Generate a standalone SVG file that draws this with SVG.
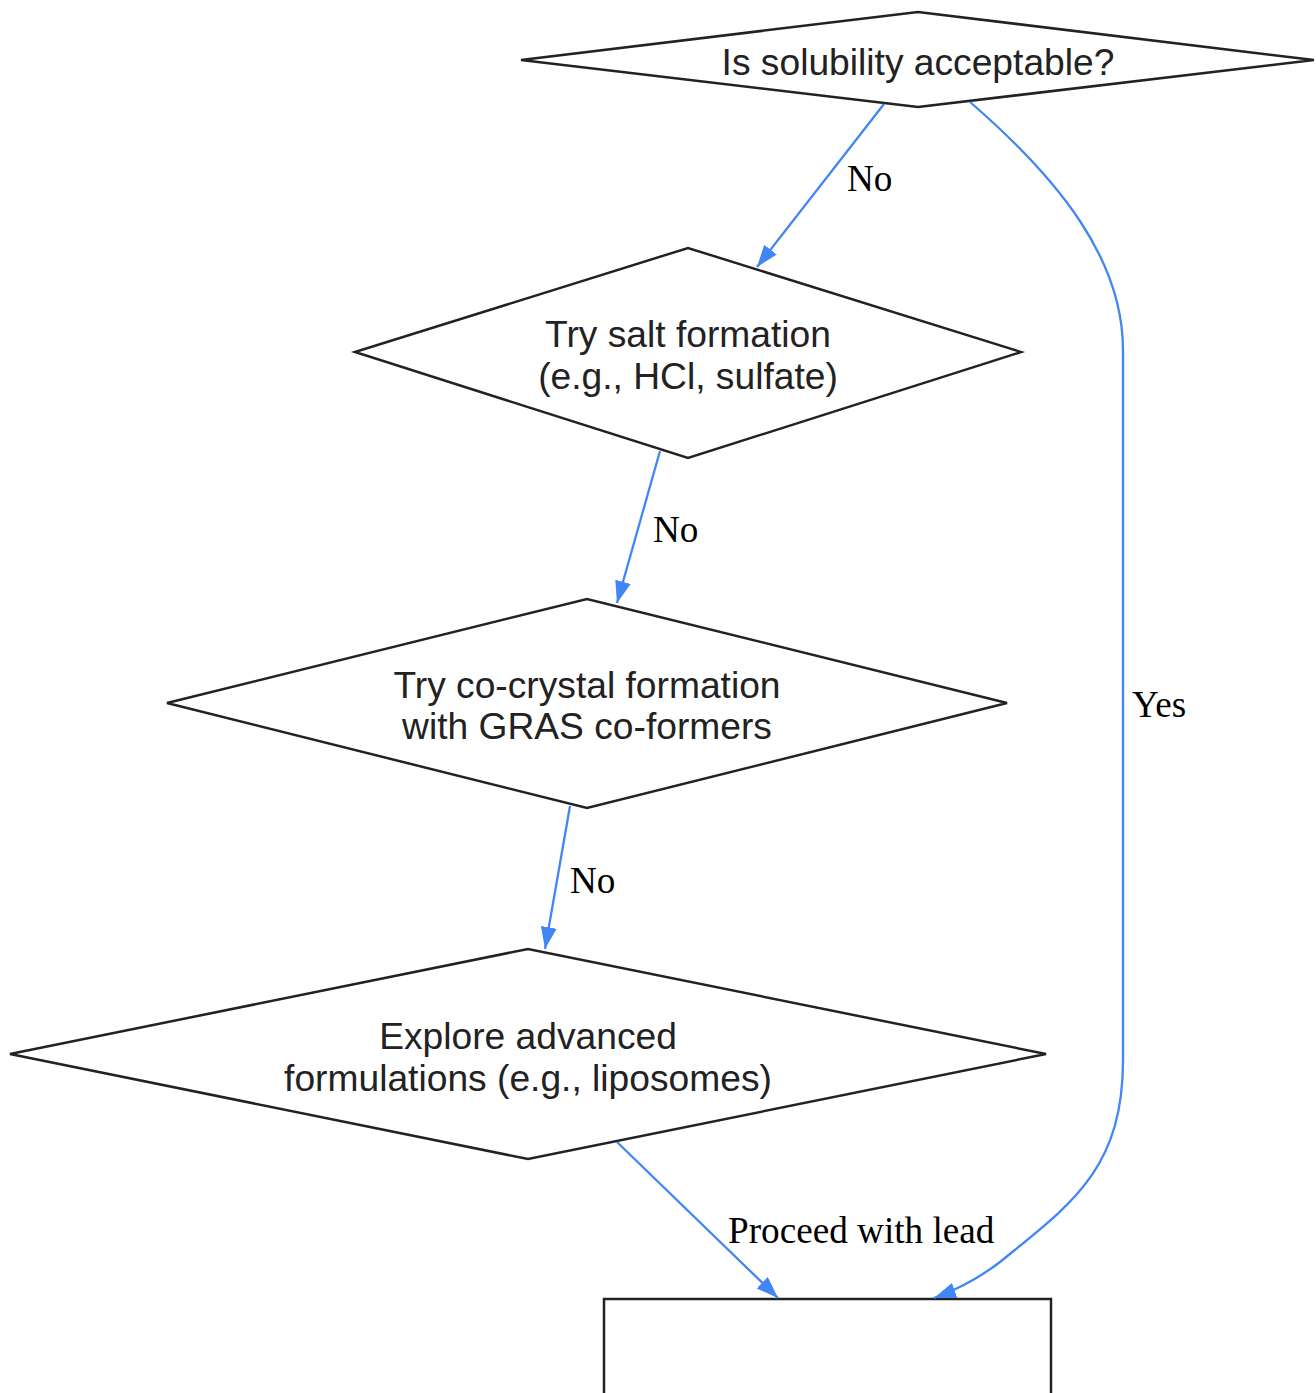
<svg xmlns="http://www.w3.org/2000/svg" width="1316" height="1393" viewBox="0 0 1316 1393">
<style>
.node{fill:#fff;stroke:#222;stroke-width:2.5}
.nt{font-family:"Liberation Sans",Arial,sans-serif;font-size:37.2px;fill:#222;text-anchor:middle}
.edge{fill:none;stroke:#4285F4;stroke-width:2.3}
.el{font-family:"Liberation Serif","Times New Roman",serif;font-size:37.2px;fill:#000}
</style>
<defs>
<marker id="arr" markerUnits="userSpaceOnUse" markerWidth="24" markerHeight="18" refX="22" refY="8" orient="auto">
<path d="M0,0 L22,8 L0,16 z" fill="#4285F4"/>
</marker>
</defs>
<rect width="1316" height="1393" fill="#fff"/>
<g id="n1">
<polygon class="node" points="521,60 918,12 1314,60 918,107"/>
<text class="nt" x="918" y="75">Is solubility acceptable?</text>
</g>
<g id="n2">
<polygon class="node" points="355,352 688,248 1021,352 688,458"/>
<text class="nt" x="688" y="347">Try salt formation</text>
<text class="nt" x="688" y="389">(e.g., HCl, sulfate)</text>
</g>
<g id="n3">
<polygon class="node" points="167,703 587,599 1007,703 587,808"/>
<text class="nt" x="587" y="698">Try co-crystal formation</text>
<text class="nt" x="587" y="739">with GRAS co-formers</text>
</g>
<g id="n4">
<polygon class="node" points="10,1054 528,949 1046,1054 528,1159"/>
<text class="nt" x="528" y="1049">Explore advanced</text>
<text class="nt" x="528" y="1091">formulations (e.g., liposomes)</text>
</g>
<g id="n5">
<rect class="node" x="604" y="1299" width="447" height="200"/>
</g>
<g id="edges">
<path class="edge" marker-end="url(#arr)" d="M884,104 L757,267"/>
<text class="el" x="847" y="191">No</text>
<path class="edge" marker-end="url(#arr)" d="M660,451 L617,603"/>
<text class="el" x="653" y="542">No</text>
<path class="edge" marker-end="url(#arr)" d="M570,806 L545,949"/>
<text class="el" x="570" y="893">No</text>
<path class="edge" marker-end="url(#arr)" d="M617,1142 L778,1298"/>
<text class="el" x="728" y="1243">Proceed with lead</text>
<path class="edge" marker-end="url(#arr)" d="M970,102 C1060,180 1123,260 1123,350 L1123,1060 C1123,1170 1070,1205 1000,1262 Q970,1285 934,1298"/>
<text class="el" x="1132" y="717">Yes</text>
</g>
</svg>
